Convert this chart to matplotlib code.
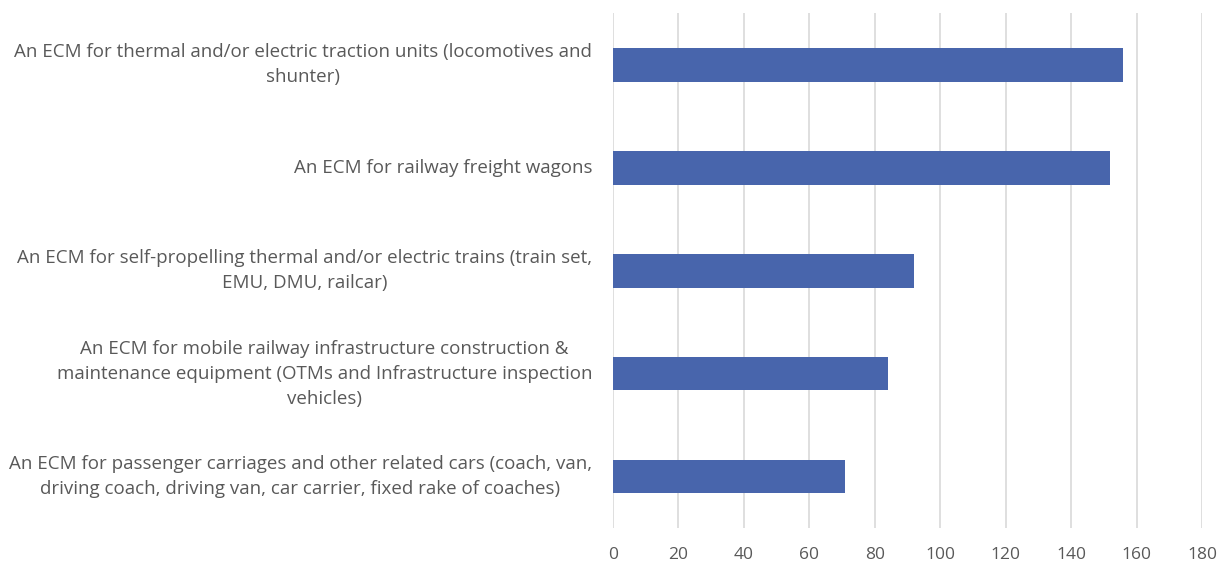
import matplotlib.pyplot as plt

categories = [
    "An ECM for thermal and/or electric traction units (locomotives and\nshunter)",
    "An ECM for railway freight wagons",
    "An ECM for self-propelling thermal and/or electric trains (train set,\nEMU, DMU, railcar)",
    "An ECM for mobile railway infrastructure construction &\nmaintenance equipment (OTMs and Infrastructure inspection\nvehicles)",
    "An ECM for passenger carriages and other related cars (coach, van,\ndriving coach, driving van, car carrier, fixed rake of coaches)",
]
values = [156, 152, 92, 84, 71]
xticks = [0, 20, 40, 60, 80, 100, 120, 140, 160, 180]

plt.rcParams['font.family'] = ['Open Sans', 'DejaVu Sans']
text_color = '#595959'

fig = plt.figure(figsize=(12.22, 5.67), dpi=100)
ax = fig.add_axes([0.5016, 0.0688, 0.482, 0.9082])

pos = list(range(len(categories)))
ax.barh(pos, values, height=0.33, color='#4865AC', zorder=3)

ax.set_ylim(len(categories) - 0.5, -0.5)
ax.set_xlim(0, 180)
ax.set_xticks(xticks)
ax.set_xticklabels([str(t) for t in xticks])
ax.set_yticks(pos)
ax.set_yticklabels(categories, multialignment='center', linespacing=1.5, va='center')

ax.grid(axis='x', color='#D9D9D9', linewidth=1.2, zorder=0)
for s in ax.spines.values():
    s.set_visible(False)
ax.tick_params(axis='both', length=0, labelcolor=text_color)
ax.tick_params(axis='y', pad=15, labelsize=13.5)
ax.tick_params(axis='x', pad=14, labelsize=12.5)

fig.savefig('out.png', dpi=100)
